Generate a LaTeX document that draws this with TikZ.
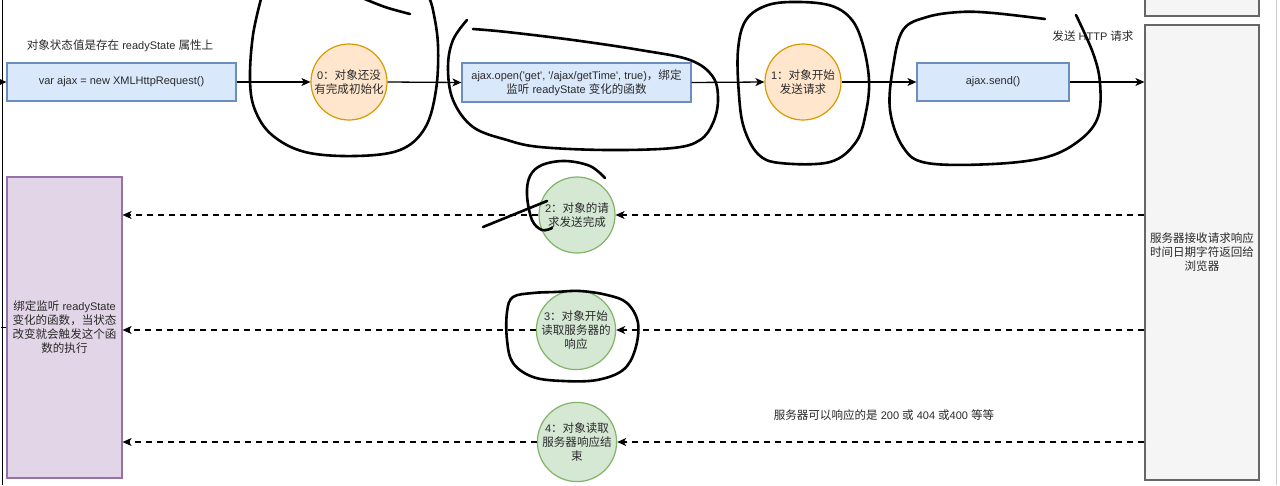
\documentclass[tikz,border=0pt]{standalone}
\usepackage{fontspec}
\setmainfont{Liberation Sans}[Ligatures=TeXOff]
\newfontfamily\cjkfont{Noto Sans CJK SC}[Ligatures=TeXOff, Scale=1.05]
\newcommand\zh[1]{{\cjkfont #1}}
\usetikzlibrary{arrows.meta}
\definecolor{bluefill}{HTML}{DAE8FC}
\definecolor{blueline}{HTML}{6C8EBF}
\definecolor{orfill}{HTML}{FFE6CC}
\definecolor{orline}{HTML}{D79B00}
\definecolor{grfill}{HTML}{D5E8D4}
\definecolor{grline}{HTML}{82B366}
\definecolor{pufill}{HTML}{E1D5E7}
\definecolor{puline}{HTML}{9673A6}
\definecolor{gyfill}{HTML}{F5F5F5}
\definecolor{gyline}{HTML}{666666}
\definecolor{txt}{HTML}{2A2A2A}
\begin{document}
\begin{tikzpicture}[x=1pt,y=-1pt,
  font=\fontsize{11}{14}\selectfont, text=txt,
  bluebox/.style={draw=blueline, fill=bluefill, line width=1.2pt, minimum height=38pt, align=center, inner sep=0pt},
  orcirc/.style={circle, draw=orline, fill=orfill, line width=1.2pt, minimum size=76pt, align=center, inner sep=0pt},
  grcirc/.style={circle, draw=grline, fill=grfill, line width=1.2pt, minimum size=76pt, align=center, inner sep=0pt},
  lbl/.style={align=center, inner sep=0pt},
  arr/.style={-{Stealth[length=9pt,width=8pt,inset=2.5pt]}, line width=1.3pt, black},
  darr/.style={arr, dash pattern=on 6pt off 5pt},
  hand/.style={black, line width=2.6pt, line cap=round, line join=round}]
\clip (0,0) rectangle (1280,485);
\fill[white] (0,0) rectangle (1280,485);

% frame artefacts
\draw[black, line width=1.2pt] (2.5,0) -- (2.5,485);
\draw[black!20, line width=1pt] (1276,0) -- (1276,485);

% top row
\node[bluebox, minimum width=229pt] (b1) at (121.5,82) {var ajax = new XMLHttpRequest()};
\node[orcirc] (c0) at (349,82) {0\zh{：对象还没}\\\zh{有完成初始化}};
\node[bluebox, minimum width=229pt, minimum height=39pt] (b2) at (576.5,82.5) {ajax.open('get', '/ajax/getTime', true)\zh{，绑定}\\\zh{监听} readyState \zh{变化的函数}};
\node[orcirc] (c1) at (803,82) {1\zh{：对象开始}\\\zh{发送请求}};
\node[bluebox, minimum width=152pt] (b3) at (993,82) {ajax.send()};

% server boxes
\node[draw=gyline, fill=gyfill, line width=1.2pt, minimum width=114pt, minimum height=30pt, inner sep=0pt] (srvtop) at (1202,1) {};
\node[draw=gyline, fill=gyfill, line width=1.2pt, minimum width=114pt, minimum height=455pt, align=center, inner sep=0pt] (srv) at (1202,252.5) {\zh{服务器接收请求响应}\\\zh{时间日期字符返回给}\\\zh{浏览器}};

% left purple box
\node[draw=puline, fill=pufill, line width=1.2pt, minimum width=115pt, minimum height=301pt, align=center, inner sep=0pt] (pu) at (64.5,327.5) {\zh{绑定监听} readyState\\\zh{变化的函数，当状态}\\\zh{改变就会触发这个函}\\\zh{数的执行}};

% green circles
\node[grcirc] (c2) at (577,215) {2\zh{：对象的请}\\\zh{求发送完成}};
\node[grcirc] (c3) at (576,330) {3\zh{：对象开始}\\\zh{读取服务器的}\\\zh{响应}};
\node[grcirc] (c4) at (577,442) {4\zh{：对象读取}\\\zh{服务器响应结}\\\zh{束}};

% labels
\node[lbl] (t1) at (120,46) {\zh{对象状态值是存在} readyState \zh{属性上}};
\node[lbl] (t2) at (1093,36) {\zh{发送} HTTP \zh{请求}};
\node[lbl] (t3) at (884,415) {\zh{服务器可以响应的是} 200 \zh{或} 404 \zh{或}400 \zh{等等}};

% solid arrows
\coordinate (lin) at (0,82);
\draw[arr] (lin) -- (b1.west);
\draw[arr] (b1.east) -- (c0.west);
\draw[arr] (c0.east) -- (b2.west);
\draw[arr] (b2.east) -- (c1.west);
\draw[arr] (c1.east) -- (b3.west);
\draw[arr] (b3.east) -- (b3.east -| srv.west);
\draw[black, line width=1pt] (pu.west) -- ++(-5,0);

% dashed arrows
\draw[darr] (srv.west |- c2) -- (c2.east);
\draw[darr] (c2.west) -- (pu.east |- c2);
\draw[darr] (srv.west |- c3) -- (c3.east);
\draw[darr] (c3.west) -- (pu.east |- c3);
\draw[darr] (srv.west |- c4) -- (c4.east);
\draw[darr] (c4.west) -- (pu.east |- c4);

% freehand annotations
\draw[hand] plot[smooth, tension=0.6] coordinates {(262,-5) (253,35) (250,80) (255,110) (272,135) (305,152) (355,156) (400,150) (425,128) (436,90) (438,45) (433,10) (428,-5)};
\draw[hand] plot[smooth, tension=0.6] coordinates {(360,-3) (385,7) (410,14)};
\draw[hand] plot[smooth, tension=0.6] coordinates {(467,20) (453,40) (448,67) (453,100) (473,127) (507,140) (540,147) (607,150) (673,148) (700,140) (713,123) (718,100) (713,77) (690,60) (640,50) (573,40) (507,32) (473,29)};
\draw[hand] plot[smooth cycle, tension=0.6] coordinates {(746,20) (738,50) (739,95) (744,128) (758,154) (780,163) (830,162) (856,142) (866,112) (869,80) (863,45) (852,20) (832,6) (800,2) (768,5)};
\draw[hand] plot[smooth, tension=0.6] coordinates {(1045,19) (993,13) (960,12) (927,17) (903,30) (893,67) (890,110) (903,147) (927,163) (993,164) (1047,157) (1080,140) (1098,117) (1100,83) (1093,53) (1076,15)};
\draw[hand] plot[smooth, tension=0.6] coordinates {(605,178) (590,166) (565,161) (542,165) (530,176) (527,195) (532,220) (542,230) (552,228)};
\draw[hand] (483,227) -- (547,201);
\draw[hand] plot[smooth cycle, tension=0.6] coordinates {(533,293) (513,297) (507,312) (507,340) (513,363) (533,377) (563,381) (597,380) (623,370) (635,350) (638,323) (627,303) (607,295) (580,291) (555,292)};
\end{tikzpicture}
\end{document}
